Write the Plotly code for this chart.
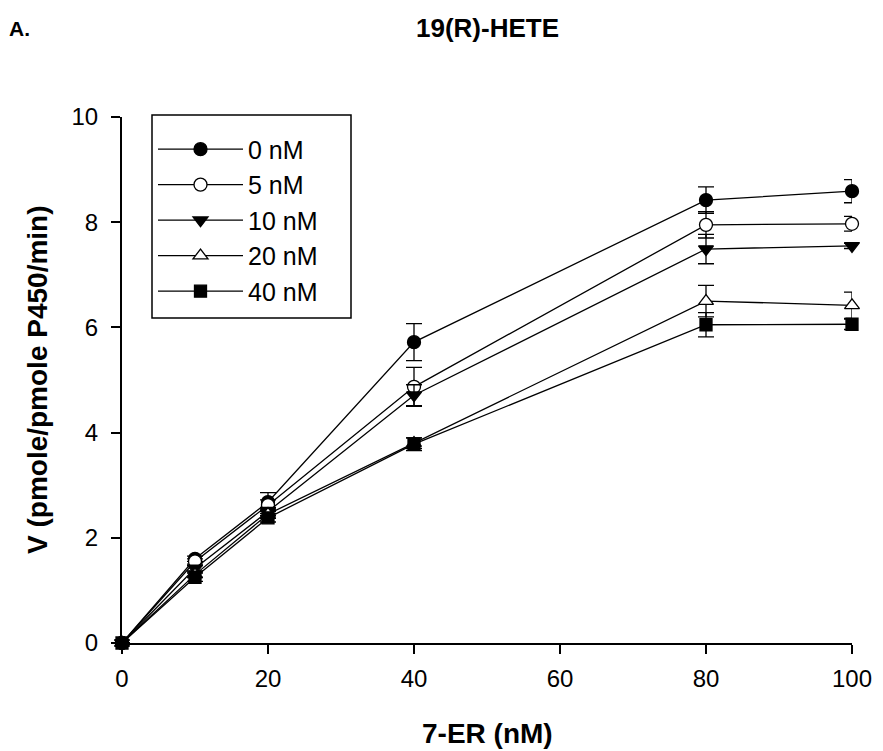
import plotly.graph_objects as go

x_vals = [0, 10, 20, 40, 80, 100]
series_names = ["0 nM", "5 nM", "10 nM", "20 nM", "40 nM"]
v_0nM = [0, 1.60, 2.68, 5.72, 8.42, 8.59]
v_5nM = [0, 1.55, 2.62, 4.87, 7.95, 7.97]
v_10nM = [0, 1.42, 2.50, 4.71, 7.49, 7.55]
v_20nM = [0, 1.30, 2.45, 3.80, 6.50, 6.42]
v_40nM = [0, 1.25, 2.38, 3.78, 6.05, 6.06]
e_0nM = [0, 0.05, 0.18, 0.35, 0.25, 0.22]
e_5nM = [0, 0.05, 0.10, 0.37, 0.25, 0.14]
e_10nM = [0, 0.05, 0.08, 0.20, 0.28, 0.05]
e_20nM = [0, 0.05, 0.08, 0.10, 0.30, 0.25]
e_40nM = [0, 0.08, 0.08, 0.12, 0.23, 0.10]

values = [v_0nM, v_5nM, v_10nM, v_20nM, v_40nM]
errors = [e_0nM, e_5nM, e_10nM, e_20nM, e_40nM]
symbols = ["circle", "circle", "triangle-down", "triangle-up", "square"]
fills = ["black", "white", "black", "white", "black"]
msizes = [13, 13, 13, 13, 12]

FONT = "Liberation Sans, Arial, sans-serif"

fig = go.Figure()
for i, (name, v, e, s, f, ms) in enumerate(zip(series_names, values, errors, symbols, fills, msizes)):
    fig.add_trace(go.Scatter(
        x=x_vals, y=v, name=name, mode="lines+markers", legendgroup=f"g{i}",
        line=dict(color="black", width=1.3),
        marker=dict(symbol=s, size=ms, color=f, line=dict(color="black", width=1.3)),
        error_y=dict(type="data", array=e, visible=True, color="black", thickness=1.3, width=8),
        cliponaxis=False,
    ))

L, R, T, B = 122, 31, 117, 108
W, H = 883, 751
pw, ph = W - L - R, H - T - B

def px(xp):
    return (xp - L) / pw

def py(yp):
    return (H - B - yp) / ph

fig.update_layout(
    width=W, height=H,
    margin=dict(l=L, r=R, t=T, b=B),
    paper_bgcolor="white", plot_bgcolor="white",
    font=dict(family=FONT, size=24, color="black"),
    showlegend=True,
    legend=dict(x=px(153), y=py(116), yanchor="top", xanchor="left",
                borderwidth=0, bgcolor="rgba(0,0,0,0)",
                font=dict(size=25, family=FONT), tracegroupgap=0,
                itemwidth=85, itemsizing="trace",
                title=dict(text=" ", font=dict(size=8))),
    shapes=[dict(type="rect", xref="paper", yref="paper",
                 x0=px(152), x1=px(351), y0=py(318), y1=py(115),
                 line=dict(color="black", width=1.5), fillcolor="white", layer="above")],
    xaxis=dict(range=[0, 100], tickvals=[0, 20, 40, 60, 80, 100], showgrid=False,
               zeroline=False, showline=True, linecolor="black", linewidth=2,
               ticks="outside", ticklen=9, tickwidth=1.5, tickcolor="black",
               ticklabelstandoff=4, tickfont=dict(size=24, family=FONT)),
    yaxis=dict(range=[0, 10], tickvals=[0, 2, 4, 6, 8, 10], showgrid=False,
               zeroline=False, showline=True, linecolor="black", linewidth=2,
               ticks="outside", ticklen=9, tickwidth=1.5, tickcolor="black",
               ticklabelstandoff=8, tickfont=dict(size=24, family=FONT)),
    annotations=[
        dict(text="<b>19(R)-HETE</b>", x=px(487), y=py(28), xref="paper", yref="paper",
             xanchor="center", yanchor="middle", showarrow=False,
             font=dict(size=26, family=FONT)),
        dict(text="<b>A.</b>", x=px(7), y=py(29), xref="paper", yref="paper",
             xanchor="left", yanchor="middle", showarrow=False,
             font=dict(size=21, family=FONT)),
        dict(text="<b>7-ER (nM)</b>", x=px(487), y=py(733), xref="paper", yref="paper",
             xanchor="center", yanchor="middle", showarrow=False,
             font=dict(size=28, family=FONT)),
        dict(text="<b>V (pmole/pmole P450/min)</b>", x=px(37), y=py(380), xref="paper", yref="paper",
             xanchor="center", yanchor="middle", showarrow=False, textangle=-90,
             font=dict(size=28, family=FONT)),
    ],
)

fig.write_html("out.html", config={"displayModeBar": False},
               post_script="document.body.style.margin='0';")
